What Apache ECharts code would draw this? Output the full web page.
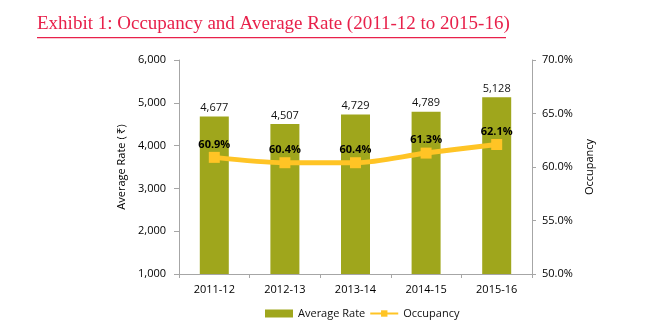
<!DOCTYPE html>
<html><head><meta charset="utf-8">
<script src="https://cdn.jsdelivr.net/npm/echarts@6/dist/echarts.min.js"></script>
<style>html,body{margin:0;padding:0;background:#fff}#c{width:660px;height:332px}</style>
</head><body><div id="c"></div>
<script>
const categories = ['2011-12','2012-13','2013-14','2014-15','2015-16'];
const averageRate = [4677, 4507, 4729, 4789, 5128];
const occupancy = [60.9, 60.4, 60.4, 61.3, 62.1];
const leftTicks = [1000, 6000, 1000];
const rightTicks = [50, 70, 5];

const chart = echarts.init(document.getElementById('c'));
const font = 'Open Sans, Liberation Sans, sans-serif';
const axisGray = '#a6a6a6';
chart.setOption({
  animation: false,
  textStyle: {fontFamily: font},
  graphic: [
    {type: 'text', left: 37, top: 15, style: {text: 'Exhibit 1: Occupancy and Average Rate (2011-12 to 2015-16)', fill: '#e8214b', font: '19px "Liberation Serif", serif'}},
    {type: 'rect', left: 37, top: 37, shape: {width: 469, height: 1.3}, style: {fill: '#e8214b'}}
  ],
  grid: {left: 179, right: 128, top: 60, bottom: 58},
  legend: {
    bottom: 8, left: 260, itemGap: 4, itemWidth: 28, itemHeight: 8,
    textStyle: {fontSize: 11, color: '#111', fontFamily: font},
    data: [{name: 'Average Rate', icon: 'rect'}, {name: 'Occupancy'}]
  },
  xAxis: {
    type: 'category', data: categories,
    axisLine: {lineStyle: {color: axisGray}},
    axisTick: {show: true, alignWithLabel: false, length: 4, lineStyle: {color: axisGray}},
    axisLabel: {color: '#000', fontSize: 11, margin: 10}
  },
  yAxis: [
    {
      type: 'value', min: leftTicks[0], max: leftTicks[1], interval: leftTicks[2],
      name: 'Average Rate ( ₹)', nameLocation: 'middle', nameGap: 48, nameRotate: 90,
      nameTextStyle: {color: '#000', fontSize: 11},
      axisLine: {show: true, lineStyle: {color: axisGray}},
      axisTick: {show: true, length: 5, lineStyle: {color: axisGray}},
      splitLine: {show: false},
      axisLabel: {color: '#000', fontSize: 11, margin: 13, formatter: v => v.toLocaleString('en-US')}
    },
    {
      type: 'value', min: rightTicks[0], max: rightTicks[1], interval: rightTicks[2], position: 'right',
      name: 'Occupancy', nameLocation: 'middle', nameGap: 52, nameRotate: 90,
      nameTextStyle: {color: '#000', fontSize: 11},
      axisLine: {show: true, lineStyle: {color: axisGray}},
      axisTick: {show: true, length: 4, lineStyle: {color: axisGray}},
      splitLine: {show: false},
      axisLabel: {color: '#000', fontSize: 11, margin: 10, formatter: v => v.toFixed(1) + '%'}
    }
  ],
  series: [
    {
      name: 'Average Rate', type: 'bar', data: averageRate, barWidth: 29,
      itemStyle: {color: '#9fa61c'},
      label: {show: true, position: 'top', color: '#111', fontSize: 11, distance: 3, formatter: p => p.value.toLocaleString('en-US')}
    },
    {
      name: 'Occupancy', type: 'line', yAxisIndex: 1, data: occupancy, smooth: 0.3,
      symbol: 'rect', symbolSize: 11,
      lineStyle: {color: '#ffc425', width: 5},
      itemStyle: {color: '#ffc425'},
      label: {show: true, position: 'top', distance: 2, color: '#000', fontWeight: 'bold', fontSize: 11, formatter: p => p.value.toFixed(1) + '%'}
    }
  ]
});
</script></body></html>
